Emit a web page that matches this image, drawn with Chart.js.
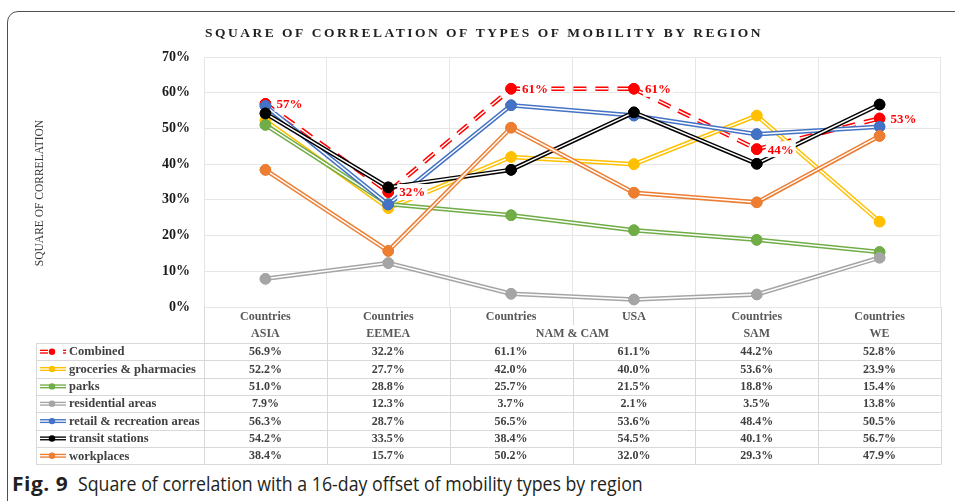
<!DOCTYPE html>
<html>
<head>
<meta charset="utf-8">
<script src="https://cdn.jsdelivr.net/npm/chart.js@4.4.0/dist/chart.umd.min.js"></script>
<style>
    html, body { margin: 0; padding: 0; background: #fff; }
    body { width: 955px; height: 501px; position: relative; overflow: hidden; }
    #frame { position: absolute; left: 7px; top: 11px; width: 1000px; height: 600px;
             border: 1.5px solid #505050; border-radius: 11px; }
    #wrap { position: absolute; left: 0; top: 0; width: 955px; height: 470px; }
    .cap { position: absolute; top: 470px; font-family: 'Open Sans', sans-serif; font-size: 20px;
           line-height: 27px; color: #231f20; white-space: nowrap; transform-origin: 0 0; }
    #figno { left: 12px; font-weight: bold; letter-spacing: 0.5px; transform: scaleX(1.05); }
    #captext { left: 78px; transform: scaleX(0.887); }
</style>
</head>
<body>
<div id="frame"></div>
<div id="wrap"><canvas id="mobilityChart" width="955" height="470"></canvas></div>
<div class="cap" id="figno">Fig. 9</div>
<div class="cap" id="captext">Square of correlation with a 16-day offset of mobility types by region</div>

<script>
const topLabels = ['Countries', 'Countries', 'Countries', 'USA', 'Countries', 'Countries'];
const groupLabels = ['ASIA', 'EEMEA', 'NAM & CAM', 'SAM', 'WE'];
const groupSpans = [1, 1, 2, 1, 1];

const combined    = [56.9, 32.2, 61.1, 61.1, 44.2, 52.8];
const groceries   = [52.2, 27.7, 42.0, 40.0, 53.6, 23.9];
const parks       = [51.0, 28.8, 25.7, 21.5, 18.8, 15.4];
const residential = [7.9, 12.3, 3.7, 2.1, 3.5, 13.8];
const retail      = [56.3, 28.7, 56.5, 53.6, 48.4, 50.5];
const transit     = [54.2, 33.5, 38.4, 54.5, 40.1, 56.7];
const workplaces  = [38.4, 15.7, 50.2, 32.0, 29.3, 47.9];

const yTicks = [0, 10, 20, 30, 40, 50, 60, 70];

const series = [
    { name: 'Combined', data: combined, color: '#ff0000', dashed: true },
    { name: 'groceries & pharmacies', data: groceries, color: '#ffc000' },
    { name: 'parks', data: parks, color: '#70ad47' },
    { name: 'residential areas', data: residential, color: '#a5a5a5' },
    { name: 'retail & recreation areas', data: retail, color: '#4472c4' },
    { name: 'transit stations', data: transit, color: '#000000' },
    { name: 'workplaces', data: workplaces, color: '#ed7d31' }
];

const SERIF = "'Liberation Serif', 'Times New Roman', serif";
const DASH = [13, 9];

// --- Plugins ---
// Excel "double" line look: white core over a thick coloured stroke
const doubleLine = {
    id: 'doubleLine',
    afterDatasetDraw(chart, args) {
        const ctx = chart.ctx;
        const ds = chart.data.datasets[args.index];
        const pts = args.meta.data;
        ctx.save();
        ctx.strokeStyle = '#fff';
        ctx.lineWidth = 1.5;
        ctx.setLineDash(ds.borderDash || []);
        ctx.beginPath();
        pts.forEach((p, i) => i ? ctx.lineTo(p.x, p.y) : ctx.moveTo(p.x, p.y));
        ctx.stroke();
        ctx.restore();
        pts.forEach(p => p.draw(ctx, chart.chartArea));
    }
};

// Title, y axis title and red labels on the Combined line
const decorations = {
    id: 'decorations',
    beforeDraw(chart) {
        const ctx = chart.ctx;
        ctx.save();
        ctx.fillStyle = '#1f1f1f';
        ctx.font = 'bold 13.5px ' + SERIF;
        ctx.letterSpacing = '2.5px';
        ctx.textAlign = 'center';
        ctx.textBaseline = 'middle';
        ctx.fillText('SQUARE OF CORRELATION OF TYPES OF MOBILITY BY REGION', 484, 34);
        ctx.letterSpacing = '0px';

        ctx.translate(40, 193);
        ctx.rotate(-Math.PI / 2);
        ctx.font = '11.5px ' + SERIF;
        ctx.fillStyle = '#333';
        ctx.fillText('SQUARE OF CORRELATION', 0, 0);
        ctx.restore();
    },
    afterDatasetsDraw(chart) {
        const ctx = chart.ctx;
        const meta = chart.getDatasetMeta(0);
        ctx.save();
        ctx.font = 'bold 13px ' + SERIF;
        ctx.textBaseline = 'middle';
        meta.data.forEach((p, i) => {
            const txt = Math.round(combined[i]) + '%';
            const w = ctx.measureText(txt).width;
            const tx = p.x + 11;
            ctx.fillStyle = '#fff';
            ctx.fillRect(tx - 2, p.y - 8, w + 4, 16);
            ctx.fillStyle = '#ff0000';
            ctx.fillText(txt, tx, p.y + 1);
        });
        ctx.restore();
    }
};

// Data table under the plot (Excel style)
const dataTable = {
    id: 'dataTable',
    afterDraw(chart) {
        const ctx = chart.ctx;
        const a = chart.chartArea;
        const x = chart.scales.x;
        const top = a.bottom;
        const headH = 36;
        const rowH = 17.35;
        const rowsTop = top + headH;
        const tableLeft = 36;
        const bottom = rowsTop + rowH * series.length;
        const half = (x.getPixelForValue(1) - x.getPixelForValue(0)) / 2;

        ctx.save();
        ctx.strokeStyle = '#d9d9d9';
        ctx.lineWidth = 1;

        // horizontal rules
        for (let r = 0; r <= series.length; r++) {
            const y = Math.round(rowsTop + r * rowH) + 0.5;
            ctx.beginPath(); ctx.moveTo(tableLeft, y); ctx.lineTo(a.right, y); ctx.stroke();
        }
        // vertical rules
        ctx.beginPath(); ctx.moveTo(tableLeft + 0.5, rowsTop); ctx.lineTo(tableLeft + 0.5, bottom); ctx.stroke();
        ctx.beginPath(); ctx.moveTo(a.left + 0.5, top); ctx.lineTo(a.left + 0.5, bottom); ctx.stroke();
        topLabels.forEach((_, i) => {
            const bx = Math.round(x.getPixelForValue(i) + half) + 0.5;
            if (i === 2) {
                // NAM & CAM spans two columns: split only above the group label
                ctx.beginPath(); ctx.moveTo(bx, top); ctx.lineTo(bx, top + 18); ctx.stroke();
                ctx.beginPath(); ctx.moveTo(bx, rowsTop); ctx.lineTo(bx, bottom); ctx.stroke();
            } else {
                ctx.beginPath(); ctx.moveTo(bx, top); ctx.lineTo(bx, bottom); ctx.stroke();
            }
        });

        // header
        ctx.textAlign = 'center';
        ctx.textBaseline = 'middle';
        ctx.fillStyle = '#595959';
        ctx.font = 'bold 12px ' + SERIF;
        topLabels.forEach((t, i) => ctx.fillText(t, x.getPixelForValue(i), top + 10));
        let idx = 0;
        groupLabels.forEach((g, k) => {
            const span = groupSpans[k];
            const cx = (x.getPixelForValue(idx) + x.getPixelForValue(idx + span - 1)) / 2;
            ctx.fillText(g, cx, top + 27);
            idx += span;
        });

        // rows
        series.forEach((s, r) => {
            const cy = rowsTop + rowH * (r + 0.5);
            ctx.fillStyle = '#404040';
            ctx.font = 'bold 12px ' + SERIF;
            ctx.textAlign = 'center';
            s.data.forEach((v, i) => ctx.fillText(v.toFixed(1) + '%', x.getPixelForValue(i), cy + 0.5));

            // legend key
            ctx.save();
            ctx.lineCap = 'butt';
            const segs = s.dashed ? [[40, 48], [63, 66]] : [[40, 66]];
            segs.forEach(([x0, x1]) => {
                ctx.strokeStyle = s.color; ctx.lineWidth = 4;
                ctx.beginPath(); ctx.moveTo(x0, cy); ctx.lineTo(x1, cy); ctx.stroke();
                ctx.strokeStyle = '#fff'; ctx.lineWidth = 1.3;
                ctx.beginPath(); ctx.moveTo(x0, cy); ctx.lineTo(x1, cy); ctx.stroke();
            });
            ctx.fillStyle = s.color;
            ctx.beginPath(); ctx.arc(52, cy, 3.2, 0, Math.PI * 2); ctx.fill();
            ctx.restore();

            ctx.fillStyle = '#404040';
            ctx.font = 'bold 12.5px ' + SERIF;
            ctx.textAlign = 'left';
            ctx.fillText(s.name, 69, cy + 0.5);
        });
        ctx.restore();
    }
};

// --- Chart ---
const ctx = document.getElementById('mobilityChart').getContext('2d');

new Chart(ctx, {
    type: 'line',
    data: {
        labels: topLabels,
        datasets: series.map((s, i) => ({
            label: s.name,
            data: s.data,
            borderColor: s.color,
            backgroundColor: s.color,
            borderWidth: 4.5,
            borderDash: s.dashed ? DASH : [],
            pointRadius: 5.3,
            pointBorderWidth: 1,
            pointBackgroundColor: s.color,
            pointBorderColor: s.color,
            pointHoverRadius: 5,
            tension: 0,
            fill: false,
            order: series.length - i
        }))
    },
    options: {
        responsive: false,
        animation: false,
        events: [],
        layout: { padding: { left: 0, right: 14, top: 57, bottom: 163 } },
        scales: {
            x: {
                offset: true,
                grid: { offset: true, color: '#e6e6e6', drawTicks: false },
                border: { display: false },
                ticks: { display: false },
                afterFit: s => { s.height = 0; }
            },
            y: {
                min: 0,
                max: 70,
                afterBuildTicks: s => { s.ticks = yTicks.map(v => ({ value: v })); },
                grid: { color: '#e6e6e6', drawTicks: false },
                border: { display: false },
                ticks: {
                    padding: 14,
                    color: '#1a1a1a',
                    font: { family: SERIF, size: 14, weight: 'bold' },
                    callback: v => v + '%'
                },
                afterFit: s => { s.width = 204; }
            }
        },
        plugins: {
            legend: { display: false },
            title: { display: false },
            tooltip: { enabled: false }
        }
    },
    plugins: [doubleLine, decorations, dataTable]
});
</script>
</body>
</html>
